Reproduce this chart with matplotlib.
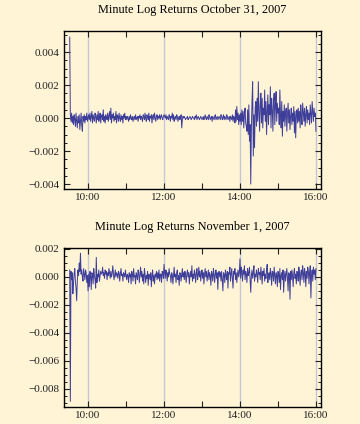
import matplotlib
matplotlib.use("Agg")
import matplotlib.pyplot as plt
from matplotlib.ticker import FixedLocator, MultipleLocator, FuncFormatter
import numpy as np

# minute log returns, in units of 1e-4, one value per minute from 9:31 to 16:00
oct31 = [
    49, 2, -2, 3, -3, 1, -4, 2, -1, -5, 3, -2, -6, 1, -3, 2, -7, -2, 3, -4, -8, 1, -2, 2, -3, 1, -1, 3, -2, 0,
    2, -1, 3, -2, 1, 4, -3, 2, 0, -2, 3, 1, -3, 2, -1, 4, -2, 0, 3, -3, 1, 2, -1, 5, -2, 1, -3, 2, 0, -1,
    3, -2, 1, 4, -1, 6, -3, 2, 0, 3, -2, 1, -1, 4, -3, 2, 1, -2, 3, 0, -2, 2, -1, 1, -3, 2, 0, 3, -1, 1,
    -1, 1, 0, -2, 1, -1, 2, 0, -1, 1, -2, 0, 1, -1, 2, -1, 0, 1, -2, 1, 0, 2, -1, 1, 0, -2, 2, 1, -1, 3,
    0, -2, 2, 1, -1, 3, -2, 1, 0, 2, -3, 1, 2, -1, 3, 0, -2, 1, 2, -1, 1, 0, 2, -1, 1, 2, 0, -1, 1, 2,
    1, 0, 2, -1, 1, 0, -1, 2, 1, -2, 1, 0, 3, -1, 2, -2, 0, 1, -1, 2, 1, -2, 0, 1, -1, 0, 2, -6, -1, 1,
    0, 1, 0, -1, 0, 0, 1, -1, 0, 0, 1, 0, -1, 0, 1, 0, 0, -1, 1, 0, 2, -1, 0, 1, 0, -1, 0, 1, 0, -1,
    0, 1, -1, 0, 2, 0, -1, 1, 0, -1, 2, 1, -1, 0, 1, -2, 1, 0, -1, 1, 2, -1, 0, 1, -1, 0, 1, 0, -1, 2,
    1, -1, 0, 2, -1, 1, 0, -1, 2, 1, -1, 0, 1, -2, 1, 0, -1, 2, -2, 1, 0, -3, 5, -2, 7, -1, 3, -4, 2, -2,
    3, -4, 5, -2, 4, -6, 2, 6, -3, -5, -8, 5, -10, 8, -14, -4, -40, -6, 10, 22, -23, 2, -18, 6, 10, -5, 12, -2, 22, 4,
    -8, 8, 15, -3, 12, -6, 6, 2, 17, -2, 10, -10, 4, 14, -4, 8, 2, 19, -6, 12, 5, -8, 10, 15, -4, 7, 16, -2, 9, 3,
    6, -4, 17, 2, -6, 10, -11, 4, -2, 8, -5, 3, 6, -8, 2, 9, -3, 5, -7, 1, 6, -4, 3, -2, 7, -9, 4, -12, 2, 5,
    -3, 6, -2, 4, -6, 8, 1, -4, 9, 3, -2, 6, -5, 2, 7, -3, 5, -1, 3, -4, 8, 2, -3, 10, 4, -2, 6, 1, 3, -8,
]
nov01 = [
    5, -89, 4, -2, 3, -12, -4, 2, 6, -3, -8, -17, -3, 5, 1, 10, 4, 17, 2, 5, 0, -3, 6, 2, -2, 5, 3, -4, 1, -10,
    2, -7, 4, 1, -9, 3, 2, -5, 6, 1, -2, -8, 14, -4, 2, 0, 5, -3, 1, 4, 2, 3, 7, 1, 3, -1, 5, 2, 4, -2,
    3, 1, 6, 3, -1, 4, 0, 2, 8, 3, -2, 1, 5, 0, 3, 2, -1, 4, 3, -3, 2, 6, 1, 2, -3, 3, 2, 0, 5, 1,
    -2, 2, 1, -4, 3, 0, 2, -5, 4, 2, -3, 6, 0, 1, -5, 3, 1, -2, 5, 3, -4, 2, 7, 0, 4, -3, 2, -5, 6, 2,
    -4, 1, -1, 4, -6, 2, 1, -2, 3, -7, 1, 5, -3, 1, -5, 2, 0, 4, -2, 3, -1, 5, -3, 2, 2, -4, 4, 3, -1, 9,
    3, -1, 5, 2, -3, 3, 0, 6, 2, 1, -4, 3, 2, -5, 1, 7, 0, 2, -4, 3, 5, -2, 1, -6, 3, 2, -3, 2, 6, 0,
    3, -2, 4, 1, -4, 2, 5, 0, 3, -5, 1, 4, 0, 8, -3, 2, -1, 5, 2, -4, 3, 6, -2, 1, 7, 0, 4, -3, 2, 5,
    -1, 3, -5, 2, 6, 0, 4, -3, 1, 5, -2, 3, 1, -6, 4, 2, -3, 6, 2, -4, 2, 5, -1, 3, -9, 2, 4, 0, 3, -3,
    4, -2, -10, 3, 2, -4, 5, 1, -2, 4, -8, 3, 2, 7, -3, 2, 6, -1, -8, 4, 2, 6, -2, 3, -4, 2, 5, 0, 3, 13,
    -1, 7, 3, -3, 5, 2, 8, -2, 4, 2, -4, 6, 1, 3, 7, -2, -11, 1, 5, -1, 3, 8, -3, 2, 0, 5, 2, -4, 6, 2,
    3, -2, 7, 2, -5, 4, 1, 6, -3, 2, -1, 5, 9, -4, 1, 3, -2, 6, 2, -6, 4, 3, -3, 7, 1, -5, 3, 2, -7, 4,
    2, -4, 6, -9, 1, 3, -2, 5, -11, 0, 4, -3, 2, 6, -1, -10, 3, 2, -16, 4, -2, 5, 1, -7, 3, 6, -1, 2, -5, 4,
    2, -3, 7, 2, -6, 3, 5, -2, 8, 3, -4, 6, 3, -7, 4, -1, 7, 4, -5, 3, 8, -15, 1, 5, -3, 7, 2, 5, -2, 6,
]
titles = ["Minute Log Returns October 31, 2007", "Minute Log Returns November 1, 2007"]
grid_hours = [600, 720, 840, 960]          # 10:00 .. 16:00 in minutes after midnight
hour_ticks = [600, 660, 720, 780, 840, 900, 960]
hour_labels = ["10:00", "", "12:00", "", "14:00", "", "16:00"]

bg = "#FFF4D6"
line_col = "#3D3D9A"
serif = ["Liberation Serif", "DejaVu Serif"]
plt.rcParams["font.family"] = serif


def fmt(v, pos):
    s = "%.3f" % abs(v)
    return ("\u2212" + s) if v < -1e-9 else s


fig = plt.figure(figsize=(3.6, 4.24), dpi=100, facecolor=bg)
ax1 = fig.add_axes([0.1778, 0.5542, 0.7139, 0.3726])
ax2 = fig.add_axes([0.1778, 0.0401, 0.7139, 0.3750])

panels = [
    (ax1, oct31, (-0.0043, 0.00527), [-0.004, -0.002, 0.0, 0.002, 0.004]),
    (ax2, nov01, (-0.0093, 0.00207), [-0.008, -0.006, -0.004, -0.002, 0.0, 0.002]),
]

for (ax, vals, ylim, yt), title in zip(panels, titles):
    y = np.array(vals) * 1e-4
    x = 571 + np.arange(len(y))   # 9:31 onwards
    ax.set_facecolor(bg)
    for g in grid_hours:
        ax.axvline(g, color="#C3C8D4", lw=1.0, zorder=1)
    ax.plot(x, y, color=line_col, lw=0.7, zorder=3)
    ax.set_xlim(562, 968)
    ax.set_ylim(*ylim)
    ax.xaxis.set_major_locator(FixedLocator(hour_ticks))
    ax.set_xticklabels(hour_labels)
    ax.yaxis.set_major_locator(FixedLocator(yt))
    ax.yaxis.set_minor_locator(MultipleLocator(0.0005))
    ax.yaxis.set_major_formatter(FuncFormatter(fmt))
    ax.tick_params(axis="both", which="major", direction="in", length=4, width=0.8,
                   top=True, right=True, labelsize=8, colors="#222222", pad=3)
    ax.tick_params(axis="y", which="minor", direction="in", length=2, width=0.6,
                   left=True, right=True)
    for s in ax.spines.values():
        s.set_linewidth(1.0)
    ax.set_title(title, fontsize=8.8, pad=13)

fig.savefig("out.png", dpi=100, facecolor=bg)
